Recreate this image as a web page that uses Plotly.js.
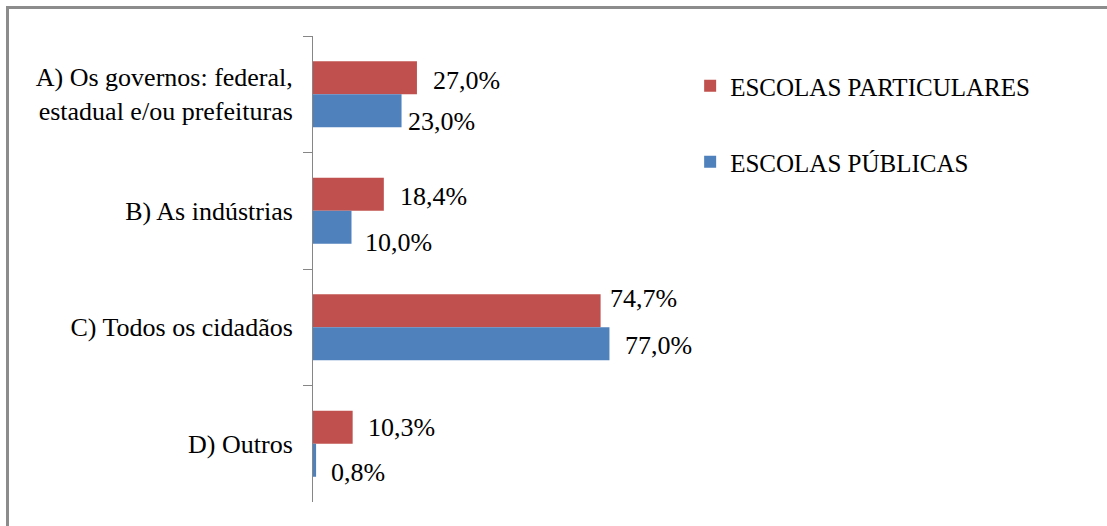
<!DOCTYPE html>
<html>
<head>
<meta charset="utf-8">
<script src="https://cdn.plot.ly/plotly-3.0.1.min.js"></script>
<style>
  html, body { margin: 0; padding: 0; background: #ffffff; }
  #frame {
    position: absolute; left: 6px; top: 6px; width: 1101px; height: 520px;
    border-left: 3px solid #8c8c8c; border-top: 3px solid #8c8c8c;
    box-sizing: border-box;
  }
  #chart { position: absolute; left: 0; top: 0; width: 1107px; height: 526px; }
</style>
</head>
<body>
<div id="frame"></div>
<div id="chart"></div>
<script>
// Who is responsible — answers by school type (percent)
const categories = [
  'A) Os governos: federal,<br>estadual e/ou prefeituras',
  'B) As indústrias',
  'C) Todos os cidadãos',
  'D) Outros'
];
const particulares = [27.0, 18.4, 74.7, 10.3];
const publicas = [23.0, 10.0, 77.0, 0.8];
const seriesNames = ['ESCOLAS PARTICULARES', 'ESCOLAS PÚBLICAS'];

// Pixel nudges for the value labels [xshift, yshift]
const nudgeParticulares = [[14, 14], [14, 14], [7, 29], [13, 16]];
const nudgePublicas = [[4, -27], [11, -32], [14, -18], [13, -29]];

const RED = '#C0504D';
const BLUE = '#4F81BD';
const GREY = '#868686';
const FONT = 'serif';

const fmt = v => v.toFixed(1).replace('.', ',') + '%';

function draw() {
  const traces = [
    {
      type: 'bar', orientation: 'h', name: seriesNames[0],
      x: particulares, y: categories,
      marker: { color: RED }, legend: 'legend', hoverinfo: 'x'
    },
    {
      type: 'bar', orientation: 'h', name: seriesNames[1],
      x: publicas, y: categories,
      marker: { color: BLUE }, legend: 'legend2', hoverinfo: 'x'
    }
  ];

  const annotations = [];
  categories.forEach((c, i) => {
    annotations.push({
      x: particulares[i], y: c, xref: 'x', yref: 'y',
      text: fmt(particulares[i]), showarrow: false,
      xanchor: 'left', yanchor: 'middle',
      xshift: nudgeParticulares[i][0], yshift: nudgeParticulares[i][1],
      font: { family: FONT, size: 26, color: '#000' }
    });
    annotations.push({
      x: publicas[i], y: c, xref: 'x', yref: 'y',
      text: fmt(publicas[i]), showarrow: false,
      xanchor: 'left', yanchor: 'middle',
      xshift: nudgePublicas[i][0], yshift: nudgePublicas[i][1],
      font: { family: FONT, size: 26, color: '#000' }
    });
  });

  const legendStyle = {
    x: 0.475, xanchor: 'left', yanchor: 'middle',
    bgcolor: 'rgba(0,0,0,0)', borderwidth: 0,
    font: { family: FONT, size: 25, color: '#000' }
  };

  const layout = {
    width: 1107, height: 526,
    margin: { l: 313, r: 0, t: 36, b: 24, pad: 0 },
    paper_bgcolor: 'rgba(0,0,0,0)',
    plot_bgcolor: 'rgba(0,0,0,0)',
    barmode: 'group',
    bargap: 0.433,
    bargroupgap: 0,
    showlegend: true,
    font: { family: FONT, color: '#000' },
    xaxis: {
      domain: [0, 385 / 794], range: [0, 100],
      showgrid: false, zeroline: false, showline: false,
      showticklabels: false, ticks: ''
    },
    yaxis: {
      type: 'category', autorange: 'reversed',
      showgrid: false, zeroline: false,
      showline: true, linecolor: GREY, linewidth: 1,
      ticks: 'outside', tickson: 'boundaries', ticklen: 9,
      tickcolor: GREY, tickwidth: 1,
      ticklabelstandoff: 14,
      tickfont: { family: FONT, size: 26, color: '#000' }
    },
    legend: Object.assign({ y: (502 - 86) / 466 }, legendStyle),
    legend2: Object.assign({ y: (502 - 162) / 466 }, legendStyle),
    annotations: annotations
  };

  return Plotly.newPlot('chart', traces, layout, { displayModeBar: false });
}

draw();
window.addEventListener('load', draw);
</script>
</body>
</html>
